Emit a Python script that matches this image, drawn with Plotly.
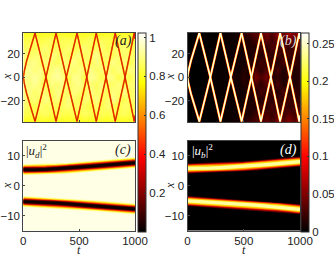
import plotly.graph_objects as go

W, H = 334, 257
OFF_L = 10      # page is shifted left by this so labels near the edge are not pushed inward
MR = 44
WP = 300
hot = [[0, "#000000"], [0.375, "#ff0000"], [0.75, "#ffff00"], [1, "#ffffff"]]

# zig-zag tracks (a), (b)
t_up = [0, 8, 30, 105, 203, 293, 385, 481, 568, 653, 741, 823, 911, 993, 1000]
x_up = [0, 5, 14, 38, 0, -38, 0, 38, 0, -38, 0, 38, 0, -38, -33]
x_dn = [0, -5, -14, -38, 0, 38, 0, -38, 0, 38, 0, -38, 0, 38, 33]

# slowly separating tracks (c), (d)
t_c = [0, 100, 200, 300, 400, 500, 600, 700, 800, 900, 1000]
x_c_up = [5.4, 5.3, 5.5, 5.7, 5.9, 6.2, 6.5, 6.8, 7.1, 7.4, 7.7]
x_c_dn = [-5.3, -5.4, -5.6, -5.8, -6.1, -6.4, -6.6, -6.9, -7.2, -7.5, -7.8]
x_d_up = [5.8, 5.8, 5.9, 6.1, 6.3, 6.5, 6.8, 7.1, 7.4, 7.8, 8.1]
x_d_dn = [-5.1, -5.3, -5.5, -5.7, -6.0, -6.3, -6.5, -6.8, -7.1, -7.5, -7.9]

# background levels read on a coarse grid
t_grid = [0, 50, 100, 150, 200, 250, 300, 350, 400, 450, 500, 550, 600, 650, 700, 750, 800, 850, 900, 950, 1000]
x_grid_ab = [-38, -32, -25, -19, -13, -6, 0, 6, 13, 19, 25, 32, 38]
z_a = [
    [.80, .80, .80, .81, .80, .80, .81, .80, .81, .80, .80, .81, .80, .80, .81, .80, .81, .80, .80, .81, .80],
    [.85, .84, .86, .85, .87, .84, .86, .85, .84, .86, .84, .87, .85, .84, .86, .84, .87, .85, .86, .84, .86],
    [.88, .86, .84, .89, .86, .88, .85, .87, .89, .85, .88, .86, .84, .88, .85, .89, .86, .84, .88, .86, .87],
    [.90, .87, .89, .86, .91, .87, .89, .86, .90, .88, .85, .89, .87, .90, .86, .88, .91, .87, .85, .89, .87],
    [.89, .91, .87, .90, .88, .86, .91, .88, .87, .90, .88, .86, .91, .87, .89, .85, .90, .88, .91, .86, .89],
    [.91, .89, .92, .88, .86, .90, .88, .92, .87, .89, .91, .87, .89, .86, .91, .88, .87, .90, .87, .89, .88],
    [.92, .90, .93, .90, .84, .91, .93, .90, .84, .92, .90, .84, .92, .90, .84, .91, .90, .84, .89, .84, .90],
    [.90, .92, .89, .91, .87, .89, .92, .88, .91, .87, .90, .88, .91, .87, .89, .91, .86, .90, .87, .91, .88],
    [.88, .90, .91, .87, .90, .88, .86, .90, .88, .91, .87, .89, .86, .90, .88, .86, .91, .87, .90, .85, .89],
    [.89, .87, .88, .90, .86, .91, .87, .89, .86, .88, .90, .86, .89, .91, .87, .88, .85, .90, .87, .89, .86],
    [.86, .88, .85, .87, .89, .85, .88, .86, .89, .85, .87, .89, .85, .87, .89, .85, .88, .86, .89, .85, .87],
    [.84, .85, .87, .84, .85, .87, .84, .86, .85, .87, .84, .85, .87, .84, .86, .85, .84, .87, .85, .86, .84],
    [.80, .81, .80, .80, .81, .80, .80, .81, .80, .80, .81, .80, .81, .80, .80, .81, .80, .80, .81, .80, .80],
]
# thousandths of |u_b|^2 in panel (b)
z_b_milli = [
    [0, 0, 0, 1, 1, 2, 3, 3, 6, 8, 14, 22, 30, 24, 38, 24, 46, 34, 50, 34, 60],
    [0, 0, 0, 1, 2, 2, 3, 4, 5, 7, 12, 10, 24, 16, 30, 20, 34, 22, 36, 22, 44],
    [0, 0, 0, 1, 1, 3, 2, 5, 4, 8, 6, 14, 10, 24, 14, 28, 16, 30, 18, 26, 24],
    [0, 0, 1, 1, 2, 2, 4, 3, 6, 5, 10, 8, 20, 12, 26, 14, 24, 16, 26, 14, 22],
    [0, 0, 0, 2, 1, 3, 3, 5, 4, 8, 6, 18, 9, 28, 14, 22, 12, 30, 12, 24, 10],
    [0, 0, 1, 1, 3, 2, 4, 3, 8, 5, 14, 8, 30, 16, 34, 10, 28, 10, 26, 10, 22],
    [0, 0, 0, 2, 6, 3, 3, 6, 10, 8, 16, 10, 46, 30, 44, 14, 18, 12, 20, 12, 18],
    [0, 0, 1, 1, 3, 2, 4, 3, 8, 5, 14, 8, 30, 16, 34, 10, 28, 10, 26, 10, 22],
    [0, 0, 0, 2, 1, 3, 3, 5, 4, 8, 6, 18, 9, 28, 14, 22, 12, 30, 12, 24, 10],
    [0, 0, 1, 1, 2, 2, 4, 3, 6, 5, 10, 8, 20, 12, 26, 14, 24, 16, 26, 14, 22],
    [0, 0, 0, 1, 1, 3, 2, 5, 4, 8, 6, 14, 10, 24, 14, 30, 18, 34, 18, 30, 28],
    [0, 0, 0, 1, 2, 2, 3, 4, 5, 7, 12, 12, 26, 18, 36, 24, 40, 26, 42, 30, 50],
    [0, 0, 0, 1, 1, 2, 3, 3, 6, 10, 16, 26, 36, 30, 46, 30, 56, 40, 64, 46, 74],
]
z_b = [[v / 1000 for v in row] for row in z_b_milli]
x_grid_cd = [-15, 15]
t_grid_cd = [0, 1000]
z_c = [[1.0, 1.0], [1.0, 1.0]]
z_d = [[0.0, 0.0], [0.0, 0.0]]

cb_left_ticks = [0.2, 0.4, 0.6, 0.8, 1]
cb_right_ticks = [0, 0.05, 0.1, 0.15, 0.2, 0.25]

layers_a = [(1.8, "#ffb000"), (1.2, "#f04000"), (0.6, "#c81000")]
layers_b = [(2.6, "#8a0000"), (2.2, "#f02000"), (1.8, "#ffb000"), (1.4, "#fff060"), (1.0, "#ffffff")]
layers_c = [(11, "#ffffb0"), (9.5, "#ffff40"), (8, "#ffb000"), (6.5, "#ff4000"), (5.2, "#c00000"),
            (4, "#600000"), (2.8, "#100000")]
layers_d = [(10, "#500000"), (8.5, "#c00000"), (7.2, "#ff4000"), (6, "#ffa000"), (4.8, "#ffe000"),
            (3.2, "#ffffa0")]


def px(v):
    return v / WP


def py(v):
    return 1 - v / H


fig = go.Figure()
panels = [
    ("", (23.3, 135), (33, 122), [-38.5, 38], [-20, 0, 20], False),
    ("2", (187.5, 300), (33, 122), [-38.5, 38], [-20, 0, 20], False),
    ("3", (23.3, 135), (141, 230.5), [-15, 15], [-10, 0, 10], True),
    ("4", (187.5, 300), (141, 230.5), [-15, 15], [-10, 0, 10], True),
]
layout = {}
for s, xd, yd, yr, yt, showx in panels:
    common = dict(showline=True, linecolor="#444444", linewidth=1, mirror=True, ticks="inside",
                  ticklen=2, tickwidth=1, tickcolor="#444444", showgrid=False, zeroline=False,
                  tickfont=dict(family="Liberation Sans", size=11.5, color="#222222"))
    layout["xaxis" + s] = dict(domain=[px(xd[0]), px(xd[1])], range=[0, 1000], anchor="y" + s,
                               tickvals=[0, 500, 1000], showticklabels=showx, **common)
    layout["yaxis" + s] = dict(domain=[py(yd[1]), py(yd[0])], range=yr, anchor="x" + s,
                               tickvals=yt, ticktext=[str(v).replace("-", "\u2212") for v in yt], **common)


def heat(t, x, z, ca, s):
    fig.add_trace(go.Heatmap(x=t, y=x, z=z, coloraxis=ca, zsmooth="best", xaxis="x" + s, yaxis="y" + s,
                             hoverinfo="skip"))


def tracks(t, xs, layers, s):
    for w, c in layers:
        for x in xs:
            fig.add_trace(go.Scatter(x=t, y=x, mode="lines", line=dict(color=c, width=w), showlegend=False,
                                     xaxis="x" + s, yaxis="y" + s, hoverinfo="skip", cliponaxis=True))


heat(t_grid, x_grid_ab, z_a, "coloraxis", "")
tracks(t_up, [x_up, x_dn], layers_a, "")
heat(t_grid, x_grid_ab, z_b, "coloraxis2", "2")
tracks(t_up, [x_up, x_dn], layers_b, "2")
heat(t_grid_cd, x_grid_cd, z_c, "coloraxis", "3")
tracks(t_c, [x_c_up, x_c_dn], layers_c, "3")
heat(t_grid_cd, x_grid_cd, z_d, "coloraxis2", "4")
tracks(t_c, [x_d_up, x_d_dn], layers_d, "4")


def cbar(x, ticks, fmt):
    return dict(x=px(x), xanchor="left", y=py(231.5), yanchor="bottom", len=198.5 / H, lenmode="fraction",
                thickness=8, thicknessmode="pixels", xpad=0, ypad=0, outlinecolor="#333333", outlinewidth=1,
                tickvals=ticks, ticktext=[fmt(v) for v in ticks], ticks="inside", ticklen=2, tickcolor="#333333",
                tickfont=dict(family="Liberation Sans", size=11.5, color="#222222"), borderwidth=0)


layout["coloraxis"] = dict(colorscale=hot, cmin=0.003, cmax=1.026, colorbar=cbar(137.5, cb_left_ticks, str))
layout["coloraxis2"] = dict(colorscale=hot, cmin=0.0, cmax=0.265, colorbar=cbar(301.5, cb_right_ticks, str))

ann = []


def note(x, y, text, size=13, color="#222222", angle=0):
    ann.append(dict(xref="paper", yref="paper", x=px(x), y=py(y), text=text, showarrow=False, textangle=angle,
                    xanchor="center", yanchor="middle", borderpad=0, borderwidth=0,
                    font=dict(family="Liberation Serif", size=size, color=color)))


note(123, 41, "<i>(a)</i>", 14)
note(288, 41, "<i>(b)</i>", 14, "#dddddd")
note(123, 150, "<i>(c)</i>", 14)
note(288, 150, "<i>(d)</i>", 14, "#ffffff")
note(36, 151, "|<i>u<sub>d</sub></i>|<sup>2</sup>", 13)
note(202, 151, "|<i>u<sub>b</sub></i>|<sup>2</sup>", 13, "#ffffff")
note(7, 77, "<i>x</i>", 12, angle=-90)
note(170, 77, "<i>x</i>", 12, angle=-90)
note(7, 186, "<i>x</i>", 12, angle=-90)
note(170, 186, "<i>x</i>", 12, angle=-90)
note(79, 249.5, "<i>t</i>", 12)
note(244, 249.5, "<i>t</i>", 12)

fig.update_layout(width=WP + OFF_L + MR, height=H, autosize=False,
                  margin=dict(l=OFF_L, r=MR, t=0, b=0, pad=0), paper_bgcolor="white",
                  plot_bgcolor="white", showlegend=False, annotations=ann, **layout)
fig.write_html("out.html",
               post_script=f"document.body.style.margin='0 0 0 -{OFF_L}px';"
                           "document.documentElement.style.overflow='hidden';document.body.style.overflow='hidden';",
               config={"displayModeBar": False})
